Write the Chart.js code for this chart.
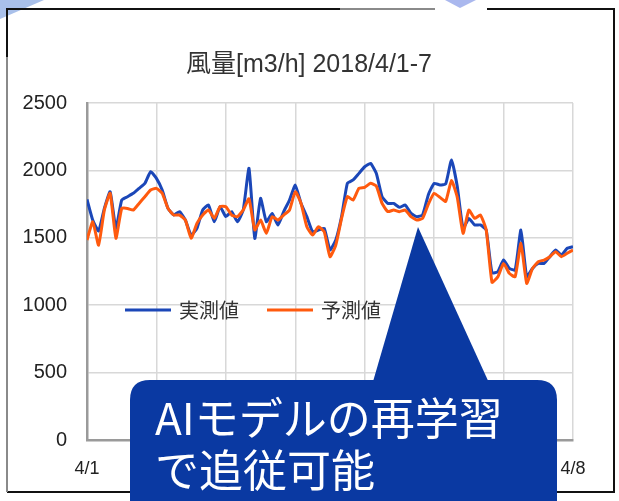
<!DOCTYPE html>
<html>
<head>
<meta charset="utf-8">
<script src="https://cdn.jsdelivr.net/npm/chart.js@4/dist/chart.umd.min.js"></script>
<style>
  html, body { margin: 0; padding: 0; background: #fff; }
  canvas { display: block; }
</style>
</head>
<body>
<canvas id="chart" width="619" height="501"></canvas>
<script>
// hours since 4/1 00:00
const hours = [0,2,4,6,8,10,12,14,16,18,20,22,24,26,28,30,32,34,36,38,40,42,44,46,48,50,52,54,56,58,60,62,64,66,68,70,72,74,76,78,80,82,84,86,88,90,92,94,96,98,100,102,104,106,108,110,112,114,116,118,120,122,124,126,128,130,132,134,136,138,140,142,144,146,148,150,152,154,156,158,160,162,164,166,168];
const actual = [1785,1630,1550,1718,1842,1570,1780,1805,1830,1867,1904,1990,1941,1854,1718,1669,1694,1632,1520,1570,1706,1743,1619,1731,1657,1694,1619,1706,2015,1496,1792,1619,1681,1595,1694,1780,1891,1755,1657,1545,1557,1570,1410,1483,1657,1904,1929,1978,2027,2052,1978,1805,1755,1755,1726,1743,1681,1657,1669,1820,1904,1892,1900,2077,1880,1570,1644,1595,1595,1558,1240,1248,1335,1273,1261,1558,1211,1273,1310,1310,1360,1409,1372,1422,1434];
const predicted = [1483,1619,1446,1706,1830,1496,1718,1718,1706,1755,1805,1854,1867,1830,1718,1669,1669,1632,1496,1607,1669,1706,1644,1731,1731,1669,1657,1706,1790,1558,1632,1533,1657,1632,1669,1706,1842,1755,1582,1520,1582,1545,1360,1446,1644,1805,1780,1867,1874,1904,1884,1755,1694,1706,1694,1706,1657,1632,1644,1750,1830,1800,1770,1925,1800,1533,1706,1644,1669,1558,1170,1210,1310,1236,1211,1459,1162,1273,1323,1335,1360,1397,1360,1385,1409];
const dayLabels = ['4/1','4/2','4/3','4/4','4/5','4/6','4/7','4/8'];
const seriesNames = ['実測値', '予測値'];
const chartTitle = '風量[m3/h] 2018/4/1-7';
const calloutLines = ['AIモデルの再学習', 'で追従可能'];

const BLUE = '#1b47b8';
const ORANGE = '#ff5a0e';
const FONT = "'Liberation Sans', 'Noto Sans CJK JP', sans-serif";
const JP = "'Noto Sans CJK JP', sans-serif";

const decor = {
  id: 'decor',
  beforeDraw(chart) {
    const ctx = chart.ctx;
    ctx.save();
    ctx.fillStyle = '#fff';
    ctx.fillRect(0, 0, chart.width, chart.height);
    // bits of the slide behind the frame
    ctx.fillStyle = '#a9c0ea';
    ctx.beginPath();
    ctx.moveTo(0, 0); ctx.lineTo(44, 0); ctx.lineTo(0, 19); ctx.closePath();
    ctx.fill();
    ctx.fillStyle = '#aab8ee';
    ctx.beginPath();
    ctx.moveTo(445, 0); ctx.lineTo(476, 0); ctx.lineTo(460, 8); ctx.closePath();
    ctx.fill();
    // frame
    ctx.lineWidth = 2;
    ctx.strokeStyle = '#111';
    ctx.beginPath();
    ctx.moveTo(7, 57); ctx.lineTo(7, 9); ctx.lineTo(340, 9);
    ctx.moveTo(487, 9); ctx.lineTo(614, 9); ctx.lineTo(614, 492); ctx.lineTo(7, 492);
    ctx.stroke();
    ctx.strokeStyle = '#8a8a8a';
    ctx.beginPath();
    ctx.moveTo(340, 9); ctx.lineTo(435, 9);
    ctx.moveTo(7, 57); ctx.lineTo(7, 492);
    ctx.stroke();
    // title
    ctx.fillStyle = '#333';
    ctx.font = '25px ' + FONT;
    ctx.textAlign = 'center';
    ctx.textBaseline = 'middle';
    ctx.fillText(chartTitle, 309, 65);
    ctx.restore();
  },
  afterDraw(chart) {
    const ctx = chart.ctx;
    ctx.save();
    // legend inside the plot
    const colors = [BLUE, ORANGE];
    const lx = [125, 267];
    ctx.font = '20px ' + JP;
    ctx.textBaseline = 'middle';
    ctx.textAlign = 'left';
    for (let i = 0; i < 2; i++) {
      ctx.strokeStyle = colors[i];
      ctx.lineWidth = 3;
      ctx.beginPath();
      ctx.moveTo(lx[i], 310); ctx.lineTo(lx[i] + 46, 310);
      ctx.stroke();
      ctx.fillStyle = '#333';
      ctx.fillText(seriesNames[i], lx[i] + 54, 310);
    }
    // callout
    const blue = '#0a39a2';
    ctx.fillStyle = blue;
    ctx.beginPath();
    ctx.moveTo(418, 227); ctx.lineTo(490, 385); ctx.lineTo(372, 385); ctx.closePath();
    ctx.fill();
    const x0 = 130, y0 = 380, x1 = 557, y1 = 540, r = 20;
    ctx.beginPath();
    ctx.moveTo(x0 + r, y0);
    ctx.lineTo(x1 - r, y0);
    ctx.quadraticCurveTo(x1, y0, x1, y0 + r);
    ctx.lineTo(x1, y1);
    ctx.lineTo(x0, y1);
    ctx.lineTo(x0, y0 + r);
    ctx.quadraticCurveTo(x0, y0, x0 + r, y0);
    ctx.fill();
    ctx.fillStyle = '#fff';
    ctx.font = '44px ' + JP;
    ctx.textBaseline = 'middle';
    ctx.fillText(calloutLines[0], 155, 418);
    ctx.fillText(calloutLines[1], 155, 470);
    ctx.restore();
  }
};

new Chart(document.getElementById('chart'), {
  type: 'line',
  data: {
    labels: hours,
    datasets: [
      {
        label: seriesNames[0],
        data: hours.map((h, i) => ({ x: h, y: actual[i] })),
        borderColor: BLUE,
        borderWidth: 3,
        pointRadius: 0,
        tension: 0.15,
        order: 2
      },
      {
        label: seriesNames[1],
        data: hours.map((h, i) => ({ x: h, y: predicted[i] })),
        borderColor: ORANGE,
        borderWidth: 3,
        pointRadius: 0,
        tension: 0.15,
        order: 1
      }
    ]
  },
  options: {
    responsive: false,
    animation: false,
    devicePixelRatio: 1,
    layout: { padding: { left: 0, right: 46, top: 103, bottom: 0 } },
    plugins: {
      legend: { display: false },
      title: { display: false },
      tooltip: { enabled: false }
    },
    scales: {
      x: {
        type: 'linear',
        min: 0,
        max: 168,
        afterFit: (s) => { s.height = 61; },
        afterBuildTicks: (s) => { s.ticks = dayLabels.map((_, i) => ({ value: i * 24 })); },
        ticks: {
          callback: (v) => dayLabels[v / 24],
          font: { family: FONT, size: 18 },
          color: '#222',
          padding: 18,
          maxRotation: 0,
          autoSkip: false
        },
        grid: { color: '#d8d8d8', lineWidth: 1.5, drawTicks: false },
        border: { color: '#9a9a9a', width: 2.5 }
      },
      y: {
        min: 0,
        max: 2500,
        afterFit: (s) => { s.width = 87; },
        ticks: {
          stepSize: 500,
          callback: (v) => String(v),
          font: { family: FONT, size: 20 },
          color: '#222',
          padding: 20
        },
        grid: { color: '#d8d8d8', lineWidth: 1.5, drawTicks: false },
        border: { color: '#9a9a9a', width: 2.5 }
      }
    }
  },
  plugins: [decor]
});
</script>
</body>
</html>
